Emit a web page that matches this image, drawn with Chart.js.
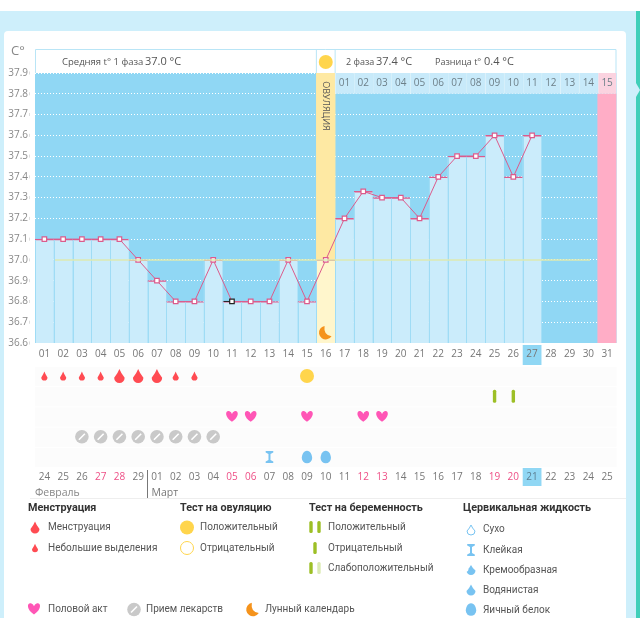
<!DOCTYPE html>
<html>
<head>
<meta charset="utf-8">
<script src="https://cdn.jsdelivr.net/npm/chart.js@4"></script>
<style>
    html, body { margin: 0; padding: 0; background: #fff; overflow: hidden; }
    #page { position: relative; width: 640px; height: 618px; }
    #sky { position: absolute; left: 0; top: 11px; width: 640px; height: 607px; background: #ceeffb; }
    #strip { position: absolute; left: 636px; top: 11px; width: 4px; height: 607px; background: #3fcfb9; }
    #notch { position: absolute; left: 636px; top: 83px; width: 4px; height: 14px; background: #ceeffb; clip-path: polygon(0 0, 100% 50%, 0 100%); }
    #card { position: absolute; left: 4px; top: 31px; width: 622px; height: 587px; background: #fff; border-radius: 4px 4px 0 0; }
    canvas { position: absolute; left: 0; top: 0; }
</style>
</head>
<body>
<div id="page">
    <div id="sky"></div>
    <div id="strip"></div>
    <div id="notch"></div>
    <div id="card"></div>
    <canvas id="chart-bbt" width="640" height="618"></canvas>
</div>
<script>
// Cycle data
const cycleDays = ['01','02','03','04','05','06','07','08','09','10','11','12','13','14','15','16',
    '17','18','19','20','21','22','23','24','25','26','27','28','29','30','31'];
const temps = [37.1, 37.1, 37.1, 37.1, 37.1, 37.0, 36.9, 36.8, 36.8, 37.0, 36.8, 36.8, 36.8, 37.0, 36.8, 37.0,
    37.2, 37.33, 37.3, 37.3, 37.2, 37.4, 37.5, 37.5, 37.6, 37.4, 37.6, null, null, null, null];
const tempTicks = [36.6, 36.7, 36.8, 36.9, 37.0, 37.1, 37.2, 37.3, 37.4, 37.5, 37.6, 37.7, 37.8, 37.9];
const coverline = 37.0;
const ovulationDay = '16';
const lastDay = '31';
const selectedDay = '11';
const todayDay = '27';
const lutealDays = ['17','18','19','20','21','22','23','24','25','26','27','28','29','30','31'];
const lutealLabels = ['01','02','03','04','05','06','07','08','09','10','11','12','13','14','15'];
const calendarDates = ['24','25','26','27','28','29','01','02','03','04','05','06','07','08','09','10',
    '11','12','13','14','15','16','17','18','19','20','21','22','23','24','25'];
const weekendCycleDays = ['04','05','11','12','18','19','25','26'];

// Symbol rows under the chart: 0 top row ... 4 bottom row
const spottingDays = ['01','02','03','04','08','09'];
const periodDays = ['05','06','07'];
const ovulationTestDays = ['15'];
const pregnancyTestDays = ['25','26'];
const intercourseDays = ['11','12','15','18','19'];
const medicineDays = ['03','04','05','06','07','08','09','10'];
const stickyDays = ['13'];
const eggWhiteDays = ['15','16'];
const moonDays = ['16'];

const C = {
    plot: '#90d7f4', bar: '#cbecfb', sep: '#9fdcf5', pink: '#dc5b8c', pinkCol: '#ffadc6', pinkHead: '#fbd3e0',
    yellow: '#fee9a3', yellowBar: '#fff6cc', head: '#c8eafa', text: '#777', dark: '#555', border: '#b9e5f6',
    weekend: '#ee4f86', red: '#ff4b52', heart: '#ff56b6', grey: '#c9c9c9', blue: '#78c3f1', sun: '#ffd54c',
    green: '#9dbf26', moon: '#f5931c',
};
const FONT = '"Open Sans", sans-serif';
const LEGEND_FONT = 'Roboto, sans-serif';

// ---- icons ----
function dropPath(ctx, x, y, w, h) {
    const t = y - h / 2, r = w / 2, cy = y + h / 2 - r;
    ctx.beginPath();
    ctx.moveTo(x, t);
    ctx.quadraticCurveTo(x + r * 0.3, t + h * 0.3, x + r, cy);
    ctx.arc(x, cy, r, 0, Math.PI);
    ctx.quadraticCurveTo(x - r * 0.3, t + h * 0.3, x, t);
    ctx.closePath();
}
function drop(ctx, x, y, w, h, color) {
    dropPath(ctx, x, y, w, h);
    ctx.fillStyle = color;
    ctx.fill();
}
function heart(ctx, x, y, w, h, color) {
    ctx.beginPath();
    ctx.moveTo(x, y + h / 2);
    ctx.bezierCurveTo(x - w * 0.62, y + h * 0.05, x - w * 0.55, y - h * 0.62, x - w * 0.2, y - h * 0.5);
    ctx.quadraticCurveTo(x - w * 0.05, y - h * 0.45, x, y - h * 0.25);
    ctx.quadraticCurveTo(x + w * 0.05, y - h * 0.45, x + w * 0.2, y - h * 0.5);
    ctx.bezierCurveTo(x + w * 0.55, y - h * 0.62, x + w * 0.62, y + h * 0.05, x, y + h / 2);
    ctx.fillStyle = color;
    ctx.fill();
}
function disc(ctx, x, y, r, color) {
    ctx.beginPath();
    ctx.arc(x, y, r, 0, Math.PI * 2);
    ctx.fillStyle = color;
    ctx.fill();
}
function pill(ctx, x, y) {
    disc(ctx, x, y, 6.8, C.grey);
    ctx.beginPath();
    ctx.moveTo(x - 3, y + 3);
    ctx.lineTo(x + 3, y - 3);
    ctx.strokeStyle = '#fff';
    ctx.lineWidth = 1.6;
    ctx.stroke();
}
function stick(ctx, x, y, h, color) {
    ctx.fillStyle = color;
    ctx.beginPath();
    ctx.roundRect(x - 1.7, y - h / 2, 3.4, h, 1.5);
    ctx.fill();
}
function hourglass(ctx, x, y) {
    ctx.fillStyle = C.blue;
    ctx.beginPath();
    ctx.moveTo(x - 3.8, y - 6);
    ctx.lineTo(x + 3.8, y - 6);
    ctx.lineTo(x + 3.8, y - 4.6);
    ctx.lineTo(x + 1, y - 3);
    ctx.lineTo(x + 1, y + 3);
    ctx.lineTo(x + 3.8, y + 4.6);
    ctx.lineTo(x + 3.8, y + 6);
    ctx.lineTo(x - 3.8, y + 6);
    ctx.lineTo(x - 3.8, y + 4.6);
    ctx.lineTo(x - 1, y + 3);
    ctx.lineTo(x - 1, y - 3);
    ctx.lineTo(x - 3.8, y - 4.6);
    ctx.closePath();
    ctx.fill();
}
function egg(ctx, x, y) {
    ctx.beginPath();
    ctx.moveTo(x, y - 6.3);
    ctx.bezierCurveTo(x + 3.5, y - 6.3, x + 5.2, y - 2, x + 5.2, y + 1);
    ctx.arc(x, y + 1, 5.2, 0, Math.PI);
    ctx.bezierCurveTo(x - 5.2, y - 2, x - 3.5, y - 6.3, x, y - 6.3);
    ctx.fillStyle = C.blue;
    ctx.fill();
}
function moon(ctx, x, y) {
    ctx.beginPath();
    ctx.arc(x, y, 6.8, -1.75, 0.55, true);
    ctx.quadraticCurveTo(x - 2.5, y + 2.5, x - 1.2, y - 6.7);
    ctx.closePath();
    ctx.fillStyle = C.moon;
    ctx.fill();
}

function label(ctx, s, x, y, font, color, align) {
    ctx.font = font;
    ctx.fillStyle = color;
    ctx.textAlign = align || 'left';
    ctx.textBaseline = 'middle';
    ctx.fillText(s, x, y);
}

// Draws the header, the rows below the plot and the legend
const pageParts = {
    id: 'pageParts',
    beforeDraw(chart) {
        const { ctx, chartArea: a } = chart;
        ctx.save();
        ctx.fillStyle = C.plot;
        ctx.fillRect(a.left, a.top, a.width, a.height);
        ctx.restore();
    },
    afterDatasetDraw(chart, args) {
        // column separators sit on top of the bars, under the line
        if (chart.data.datasets[args.index].id !== 'temps') return;
        const ctx = chart.ctx;
        ctx.save();
        ctx.strokeStyle = C.sep;
        ctx.lineWidth = 1;
        args.meta.data.forEach((bar, i) => {
            if (temps[i] === null) return;
            const x = Math.round(bar.x - bar.width / 2) + 0.5;
            ctx.beginPath();
            ctx.moveTo(x, bar.y + 1);
            ctx.lineTo(x, chart.chartArea.bottom);
            ctx.stroke();
        });
        ctx.restore();
    },
    beforeDatasetsDraw(chart) {
        // today box goes under the tick labels' row, the ticks are drawn already
        const { ctx, scales: { x } } = chart;
        const colW = x.getPixelForValue(1) - x.getPixelForValue(0);
        const px = x.getPixelForValue(cycleDays.indexOf(todayDay));
        ctx.save();
        ctx.globalCompositeOperation = 'destination-over';
        ctx.fillStyle = C.plot;
        ctx.fillRect(px - colW / 2, 345, colW, 20);
        ctx.restore();
    },
    afterDraw(chart) {
        const { ctx, chartArea: a, scales: { x, y } } = chart;
        const colW = x.getPixelForValue(1) - x.getPixelForValue(0);
        const xOf = d => x.getPixelForValue(cycleDays.indexOf(d));
        ctx.save();

        // header box
        ctx.fillStyle = '#fff';
        ctx.fillRect(a.left, 49, a.width, a.top - 49);
        ctx.strokeStyle = C.border;
        ctx.lineWidth = 1;
        ctx.beginPath();
        ctx.moveTo(a.left + 0.5, a.top);
        ctx.lineTo(a.left + 0.5, 49.5);
        ctx.lineTo(a.right - 0.5, 49.5);
        ctx.lineTo(a.right - 0.5, a.top);
        ctx.moveTo(xOf(ovulationDay) - colW / 2, 49.5);
        ctx.lineTo(xOf(ovulationDay) - colW / 2, a.top);
        ctx.moveTo(xOf(ovulationDay) + colW / 2, 49.5);
        ctx.lineTo(xOf(ovulationDay) + colW / 2, a.top);
        ctx.stroke();
        disc(ctx, xOf(ovulationDay), 62, 7, C.sun);
        label(ctx, 'C°', 11, 51, '13px ' + FONT, '#888');
        label(ctx, 'Средняя t° 1 фаза', 62, 62, '9.5px ' + FONT, C.dark);
        label(ctx, '37.0 °C', 145, 61.5, '11px ' + FONT, C.dark);
        label(ctx, '2 фаза', 346, 62, '9px ' + FONT, C.dark);
        label(ctx, '37.4 °C', 376, 61.5, '11px ' + FONT, C.dark);
        label(ctx, 'Разница t°', 435, 62, '9px ' + FONT, C.dark);
        label(ctx, '0.4 °C', 484, 61.5, '11px ' + FONT, C.dark);

        // small marks beside the temperature labels
        ctx.fillStyle = '#ddd';
        tempTicks.forEach(v => ctx.fillRect(29, y.getPixelForValue(v) - 1.5, 1, 3));

        // rotated ovulation caption
        ctx.save();
        ctx.translate(xOf(ovulationDay), 106);
        ctx.rotate(Math.PI / 2);
        label(ctx, 'ОВУЛЯЦИЯ', 0, 0, '9px ' + FONT, C.dark, 'center');
        ctx.restore();

        // second phase day numbers
        lutealDays.forEach((d, i) => {
            label(ctx, lutealLabels[i], xOf(d), (a.top + y.getPixelForValue(37.8)) / 2, '10px ' + FONT, '#6d7f88', 'center');
        });

        // coverline
        ctx.strokeStyle = 'rgba(222,234,176,0.75)';
        ctx.lineWidth = 2;
        ctx.beginPath();
        ctx.moveTo(a.left + 20, y.getPixelForValue(coverline));
        ctx.lineTo(590, y.getPixelForValue(coverline));
        ctx.stroke();

        // the selected point's half line is black
        const sel = xOf(selectedDay);
        const selY = y.getPixelForValue(temps[cycleDays.indexOf(selectedDay)]);
        ctx.strokeStyle = '#222';
        ctx.lineWidth = 1;
        ctx.beginPath();
        ctx.moveTo(sel - colW / 2 + 1, selY);
        ctx.lineTo(sel - 2, selY);
        ctx.stroke();

        // today box in the calendar row
        ctx.fillStyle = C.plot;
        ctx.fillRect(xOf(todayDay) - colW / 2, 468, colW, 18);

        // pale symbol grid
        ctx.fillStyle = '#fcfcfc';
        for (let r = 0; r < 5; r++) {
            ctx.fillRect(a.left, 367 + r * 20.25, a.width, 19);
        }

        // symbols, placed by the library's scales
        const painters = {
            spot: (px, py) => drop(ctx, px, py, 6.2, 9, C.red),
            period: (px, py) => drop(ctx, px, py, 10.5, 14, C.red),
            sun: (px, py) => disc(ctx, px, py, 7, C.sun),
            preg: (px, py) => stick(ctx, px, py, 13, C.green),
            heart: (px, py) => heart(ctx, px, py, 12.5, 10.5, C.heart),
            pill: (px, py) => pill(ctx, px, py),
            sticky: (px, py) => hourglass(ctx, px, py),
            egg: (px, py) => egg(ctx, px, py),
            moon: (px, py) => moon(ctx, px, py),
        };
        chart.data.datasets.forEach((ds, i) => {
            if (!ds.symbol) return;
            chart.getDatasetMeta(i).data.forEach(pt => painters[ds.symbol](pt.x, pt.y));
        });

        // calendar row
        calendarDates.forEach((d, i) => {
            const isToday = cycleDays[i] === todayDay;
            const col = isToday ? '#5d7f92' : (weekendCycleDays.includes(cycleDays[i]) ? C.weekend : C.text);
            label(ctx, d, x.getPixelForValue(i), 477.5, '10px ' + FONT, col, 'center');
        });
        label(ctx, 'Февраль', 35, 493, '10.5px ' + FONT, '#888');
        label(ctx, 'Март', 151.5, 493, '10.5px ' + FONT, '#777');
        ctx.strokeStyle = '#777';
        ctx.lineWidth = 1;
        ctx.beginPath();
        ctx.moveTo(147.5, 470);
        ctx.lineTo(147.5, 498);
        ctx.stroke();
        ctx.strokeStyle = '#eee';
        ctx.beginPath();
        ctx.moveTo(30, 498.5);
        ctx.lineTo(626, 498.5);
        ctx.stroke();

        // legend
        const head = 'bold 10.8px ' + LEGEND_FONT, item = '10px ' + LEGEND_FONT, ink = '#555';
        label(ctx, 'Менструация', 28, 508, head, '#333');
        drop(ctx, 35, 527.5, 9, 12, C.red);
        label(ctx, 'Менструация', 48, 527.5, item, ink);
        drop(ctx, 35, 548, 6, 8.5, C.red);
        label(ctx, 'Небольшие выделения', 48, 548, item, ink);

        label(ctx, 'Тест на овуляцию', 180, 508, head, '#333');
        disc(ctx, 187, 527.5, 7, C.sun);
        label(ctx, 'Положительный', 200, 527.5, item, ink);
        ctx.beginPath();
        ctx.arc(187, 548, 6.5, 0, Math.PI * 2);
        ctx.strokeStyle = C.sun;
        ctx.lineWidth = 1;
        ctx.stroke();
        label(ctx, 'Отрицательный', 200, 548, item, ink);

        label(ctx, 'Тест на беременность', 309, 508, head, '#333');
        stick(ctx, 311, 527, 12, C.green);
        stick(ctx, 319, 527, 12, C.green);
        label(ctx, 'Положительный', 328, 527.5, item, ink);
        stick(ctx, 315, 548, 12, C.green);
        label(ctx, 'Отрицательный', 328, 548, item, ink);
        stick(ctx, 311, 568, 12, C.green);
        stick(ctx, 319, 568, 12, '#dcebb4');
        label(ctx, 'Слабоположительный', 328, 568, item, ink);

        label(ctx, 'Цервикальная жидкость', 463, 508, head, '#333');
        dropPath(ctx, 471, 530, 8, 10);
        ctx.strokeStyle = C.blue;
        ctx.lineWidth = 1;
        ctx.stroke();
        label(ctx, 'Сухо', 483, 529.5, item, ink);
        hourglass(ctx, 471, 550);
        label(ctx, 'Клейкая', 483, 550, item, ink);
        drop(ctx, 471, 570, 9, 10, C.blue);
        ctx.fillStyle = '#fff';
        ctx.beginPath();
        ctx.moveTo(466, 566);
        ctx.quadraticCurveTo(471, 570, 466, 572);
        ctx.fill();
        label(ctx, 'Кремообразная', 483, 570, item, ink);
        drop(ctx, 471, 590, 9, 11, C.blue);
        label(ctx, 'Водянистая', 483, 590, item, ink);
        egg(ctx, 471, 609.5);
        label(ctx, 'Яичный белок', 483, 610, item, ink);

        heart(ctx, 34, 609, 13, 11, C.heart);
        label(ctx, 'Половой акт', 48, 609.5, item, ink);
        pill(ctx, 134, 609.5);
        label(ctx, 'Прием лекарств', 146, 609.5, item, ink);
        moon(ctx, 253, 609.5);
        label(ctx, 'Лунный календарь', 265, 609.5, item, ink);

        ctx.restore();
    },
};

// One dataset per symbol kind; row 0 is the top row under the plot
function symbolSet(symbol, days, row) {
    return {
        type: 'line', symbol, showLine: false, pointRadius: 0, yAxisID: 'symbolRows',
        data: days.map(d => ({ x: d, y: row })),
    };
}

// The hidden row axis maps row numbers to the area below the plot
const rowTop = 376, rowStep = 20.25;

new Chart(document.getElementById('chart-bbt'), {
    type: 'bar',
    plugins: [pageParts],
    data: {
        labels: cycleDays,
        datasets: [
            {
                id: 'columns', order: 5,
                data: cycleDays.map(d => d === ovulationDay ? [36.6, 37.9] : d === lastDay ? [36.6, 37.8] : null),
                backgroundColor: cycleDays.map(d => d === ovulationDay ? C.yellow : C.pinkCol),
            },
            {
                id: 'lutealHead', order: 4,
                data: cycleDays.map(d => lutealDays.includes(d) ? [37.8, 37.9] : null),
                backgroundColor: cycleDays.map(d => d === lastDay ? C.pinkHead : C.head),
                borderColor: '#dff3fb',
                borderWidth: { left: 1, right: 0, top: 0, bottom: 0 },
            },
            {
                id: 'temps', order: 3,
                data: temps,
                backgroundColor: cycleDays.map(d => d === ovulationDay ? C.yellowBar : C.bar),
                borderColor: C.pink,
                borderWidth: { top: 1.4, left: 0, right: 0, bottom: 0 },
                borderSkipped: false,
            },
            {
                type: 'line', id: 'curve', order: 1,
                data: temps,
                borderColor: C.pink,
                borderWidth: 1,
                tension: 0,
                pointStyle: 'rect',
                pointRadius: 3.2,
                pointBackgroundColor: '#fff',
                pointBorderWidth: 1.2,
                pointBorderColor: cycleDays.map(d => d === selectedDay ? '#222' : C.pink),
            },
            symbolSet('spot', spottingDays, 0),
            symbolSet('period', periodDays, 0),
            symbolSet('sun', ovulationTestDays, 0),
            symbolSet('preg', pregnancyTestDays, 1),
            symbolSet('heart', intercourseDays, 2),
            symbolSet('pill', medicineDays, 3),
            symbolSet('sticky', stickyDays, 4),
            symbolSet('egg', eggWhiteDays, 4),
            {
                type: 'line', symbol: 'moon', showLine: false, pointRadius: 0,
                data: moonDays.map(d => ({ x: d, y: 36.65 })),
            },
        ],
    },
    options: {
        responsive: false,
        animation: false,
        grouped: false,
        events: [],
        layout: { padding: { left: 0, right: 23.5, top: 73, bottom: 0 } },
        datasets: { bar: { barPercentage: 1, categoryPercentage: 1 } },
        plugins: { legend: { display: false }, tooltip: { enabled: false } },
        scales: {
            x: {
                grid: { display: false, drawTicks: false },
                border: { display: false },
                afterFit: s => { s.height = 275; },
                ticks: {
                    autoSkip: false, maxRotation: 0, padding: 5,
                    color: C.text, font: { family: FONT, size: 10 },
                },
            },
            y: {
                min: 36.6,
                max: 37.9,
                afterBuildTicks: s => { s.ticks = tempTicks.map(v => ({ value: v })); },
                afterFit: s => { s.width = 35; },
                grid: {
                    color: '#fff',
                    drawTicks: false,
                    lineWidth: 1,
                },
                border: { display: false, dash: [1, 2] },
                ticks: {
                    padding: 7,
                    color: '#888',
                    font: { family: FONT, size: 10 },
                    callback: v => v.toFixed(1),
                },
            },
            symbolRows: {
                axis: 'y',
                display: false,
                reverse: true,
                min: (73 - rowTop) / rowStep,
                max: (343 - rowTop) / rowStep,
            },
        },
    },
});
</script>
</body>
</html>
